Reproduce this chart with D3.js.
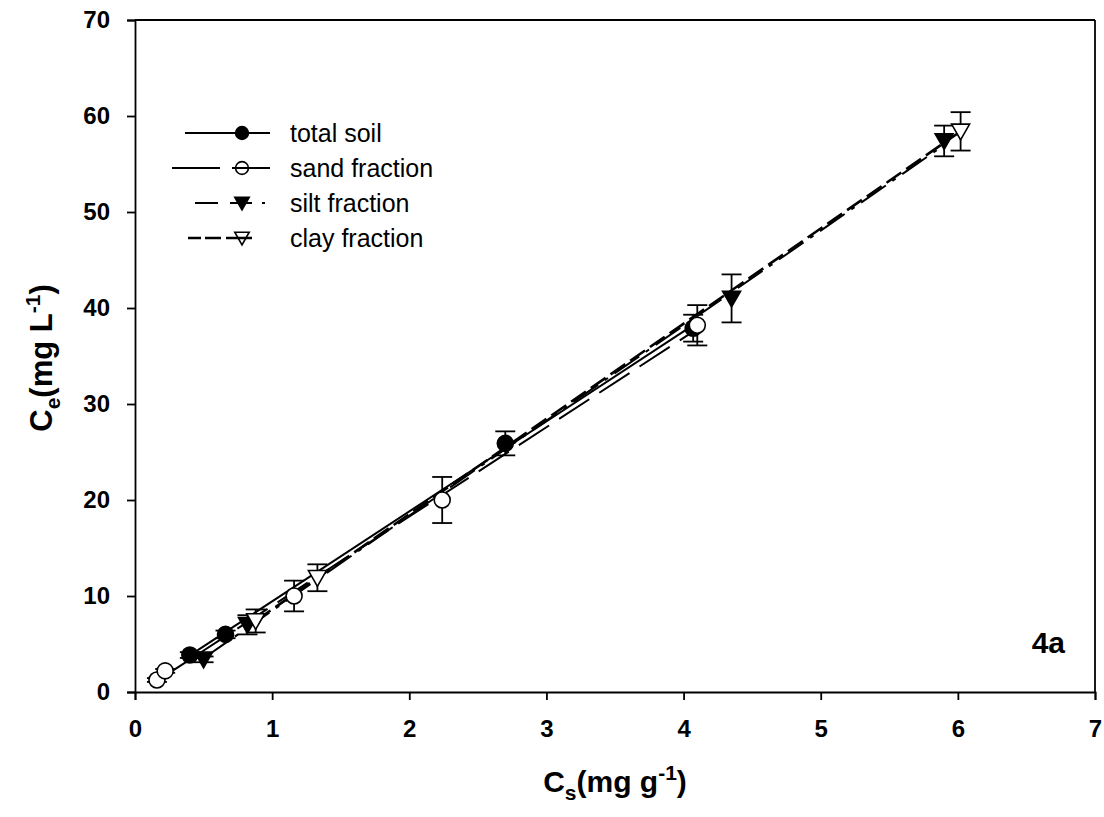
<!DOCTYPE html>
<html><head><meta charset="utf-8">
<script src="https://cdn.jsdelivr.net/npm/d3@7"></script>
<style>body{margin:0;background:#fff}svg{display:block}text{font-family:"Liberation Sans",Arial,sans-serif}</style>
</head><body><svg id="c" width="1104" height="817"></svg>
<script>
const xTicks=[0,1,2,3,4,5,6,7];
const yTicks=[0,10,20,30,40,50,60,70];
const seriesNames=["total soil","sand fraction","silt fraction","clay fraction"];
const totalX=[0.40,0.66,2.70,4.07];
const totalY=[3.85,6.0,25.9,37.9];
const totalErr=[0.3,0.4,1.25,1.4];
const sandX=[0.16,0.22,1.16,2.24,4.10];
const sandY=[1.25,2.2,10.0,20.0,38.2];
const sandErr=[0.2,0.2,1.6,2.4,2.1];
const siltX=[0.50,0.82,4.35,5.90];
const siltY=[3.4,7.0,41.0,57.4];
const siltErr=[0.3,1.0,2.5,1.6];
const clayX=[0.88,1.33,6.02];
const clayY=[7.4,11.9,58.4];
const clayErr=[1.2,1.4,2.0];

const FONT="'Liberation Sans',Arial,sans-serif";
const svg=d3.select("#c");
const x=d3.scaleLinear().domain([0,7]).range([135,1095]);
const y=d3.scaleLinear().domain([0,70]).range([692,20]);

const series=[
 {name:seriesNames[0],xs:totalX,ys:totalY,es:totalErr,marker:"circle",fill:"#000",dash:null,w:2,leg:[185,270,null]},
 {name:seriesNames[1],xs:sandX,ys:sandY,es:sandErr,marker:"circle",fill:"#fff",dash:"36,12",w:2,leg:[172,270,"48,12,38"]},
 {name:seriesNames[2],xs:siltX,ys:siltY,es:siltErr,marker:"tri",fill:"#000",dash:"30,8,4,8",w:2,leg:[195,265,"23,12,22,10,3"]},
 {name:seriesNames[3],xs:clayX,ys:clayY,es:clayErr,marker:"tri",fill:"#fff",dash:"18,6",w:2.6,leg:[188,252,"13,4,16,5,26"]}
];

function fit(xs,ys){const mx=d3.mean(xs),my=d3.mean(ys);let num=0,den=0;xs.forEach((v,i)=>{num+=(v-mx)*(ys[i]-my);den+=(v-mx)*(v-mx);});const b=num/den;return {b,a:my-b*mx};}

function drawMarker(g,type,cx,cy,fill,k){
 if(type==="circle"){g.append("circle").attr("cx",cx).attr("cy",cy).attr("r",8*k).attr("fill",fill).attr("stroke","#000").attr("stroke-width",1.6);}
 else{const s=9*k;g.append("path").attr("d",`M${cx-s},${cy-s*0.8}L${cx+s},${cy-s*0.8}L${cx},${cy+s*0.95}Z`).attr("fill",fill).attr("stroke","#000").attr("stroke-width",1.6);}
}

// fitted lines
series.forEach(s=>{
 const f=fit(s.xs,s.ys);const x0=d3.min(s.xs),x1=d3.max(s.xs);
 svg.append("line").attr("x1",x(x0)).attr("y1",y(f.a+f.b*x0)).attr("x2",x(x1)).attr("y2",y(f.a+f.b*x1))
  .attr("stroke","#000").attr("stroke-width",s.w).attr("stroke-dasharray",s.dash);
});
// error bars and markers
series.forEach(s=>{
 const g=svg.append("g");
 s.xs.forEach((xv,i)=>{
  const cx=x(xv),t=y(s.ys[i]+s.es[i]),b=y(s.ys[i]-s.es[i]);
  g.append("line").attr("x1",cx).attr("x2",cx).attr("y1",t).attr("y2",b).attr("stroke","#000").attr("stroke-width",1.8);
  [t,b].forEach(yy=>g.append("line").attr("x1",cx-10).attr("x2",cx+10).attr("y1",yy).attr("y2",yy).attr("stroke","#000").attr("stroke-width",1.8));
 });
 s.xs.forEach((xv,i)=>drawMarker(g,s.marker,x(xv),y(s.ys[i]),s.fill,1));
});

// frame
svg.append("line").attr("x1",x(0)).attr("x2",x(7)).attr("y1",y(70)).attr("y2",y(70)).attr("stroke","#000").attr("stroke-width",1.8);
svg.append("line").attr("x1",x(7)).attr("x2",x(7)).attr("y1",y(0)).attr("y2",y(70)).attr("stroke","#000").attr("stroke-width",1.8);

const xa=svg.append("g").attr("transform","translate(0,692)").call(d3.axisBottom(x).tickValues(xTicks).tickFormat(d3.format("d")).tickSize(8).tickPadding(20));
const ya=svg.append("g").attr("transform","translate(135,0)").call(d3.axisLeft(y).tickValues(yTicks).tickFormat(d3.format("d")).tickSize(8).tickPadding(17));
[xa,ya].forEach(a=>{a.select(".domain").attr("stroke-width",1.8);a.selectAll(".tick line").attr("stroke-width",1.8);a.selectAll("text").attr("font-size",24).attr("font-weight","bold").attr("fill","#000").style("font-family",FONT);});

// axis titles
const TS=30,SS=21;
const xt=svg.append("text").attr("x",615).attr("y",792).attr("text-anchor","middle").attr("font-size",TS).attr("font-weight","bold");
xt.append("tspan").text("C");
xt.append("tspan").attr("font-size",SS).attr("dy",8).text("s");
xt.append("tspan").attr("dy",-8).text("(mg g");
xt.append("tspan").attr("font-size",SS).attr("dy",-12).text("-1");
xt.append("tspan").attr("dy",12).text(")");

const yt=svg.append("text").attr("transform","translate(52,358) rotate(-90)").attr("text-anchor","middle").attr("font-size",31).attr("font-weight","bold");
yt.append("tspan").text("C");
yt.append("tspan").attr("font-size",SS).attr("dy",8).text("e");
yt.append("tspan").attr("dy",-8).text("(mg L");
yt.append("tspan").attr("font-size",SS).attr("dy",-12).text("-1");
yt.append("tspan").attr("dy",12).text(")");

// legend
const legY=[133,168,203,238];
series.forEach((s,i)=>{
 const yy=legY[i];const L=s.leg;
 svg.append("line").attr("x1",L[0]).attr("x2",L[1]).attr("y1",yy).attr("y2",yy).attr("stroke","#000").attr("stroke-width",s.w).attr("stroke-dasharray",L[2]);
 drawMarker(svg,s.marker,242,yy,s.fill==="#fff"?"none":s.fill,0.8);
 svg.append("text").attr("x",290).attr("y",yy+9).attr("font-size",25).text(s.name);
});

svg.append("text").attr("x",1065).attr("y",653).attr("text-anchor","end").attr("font-size",30).attr("font-weight","bold").text("4a");
</script></body></html>
